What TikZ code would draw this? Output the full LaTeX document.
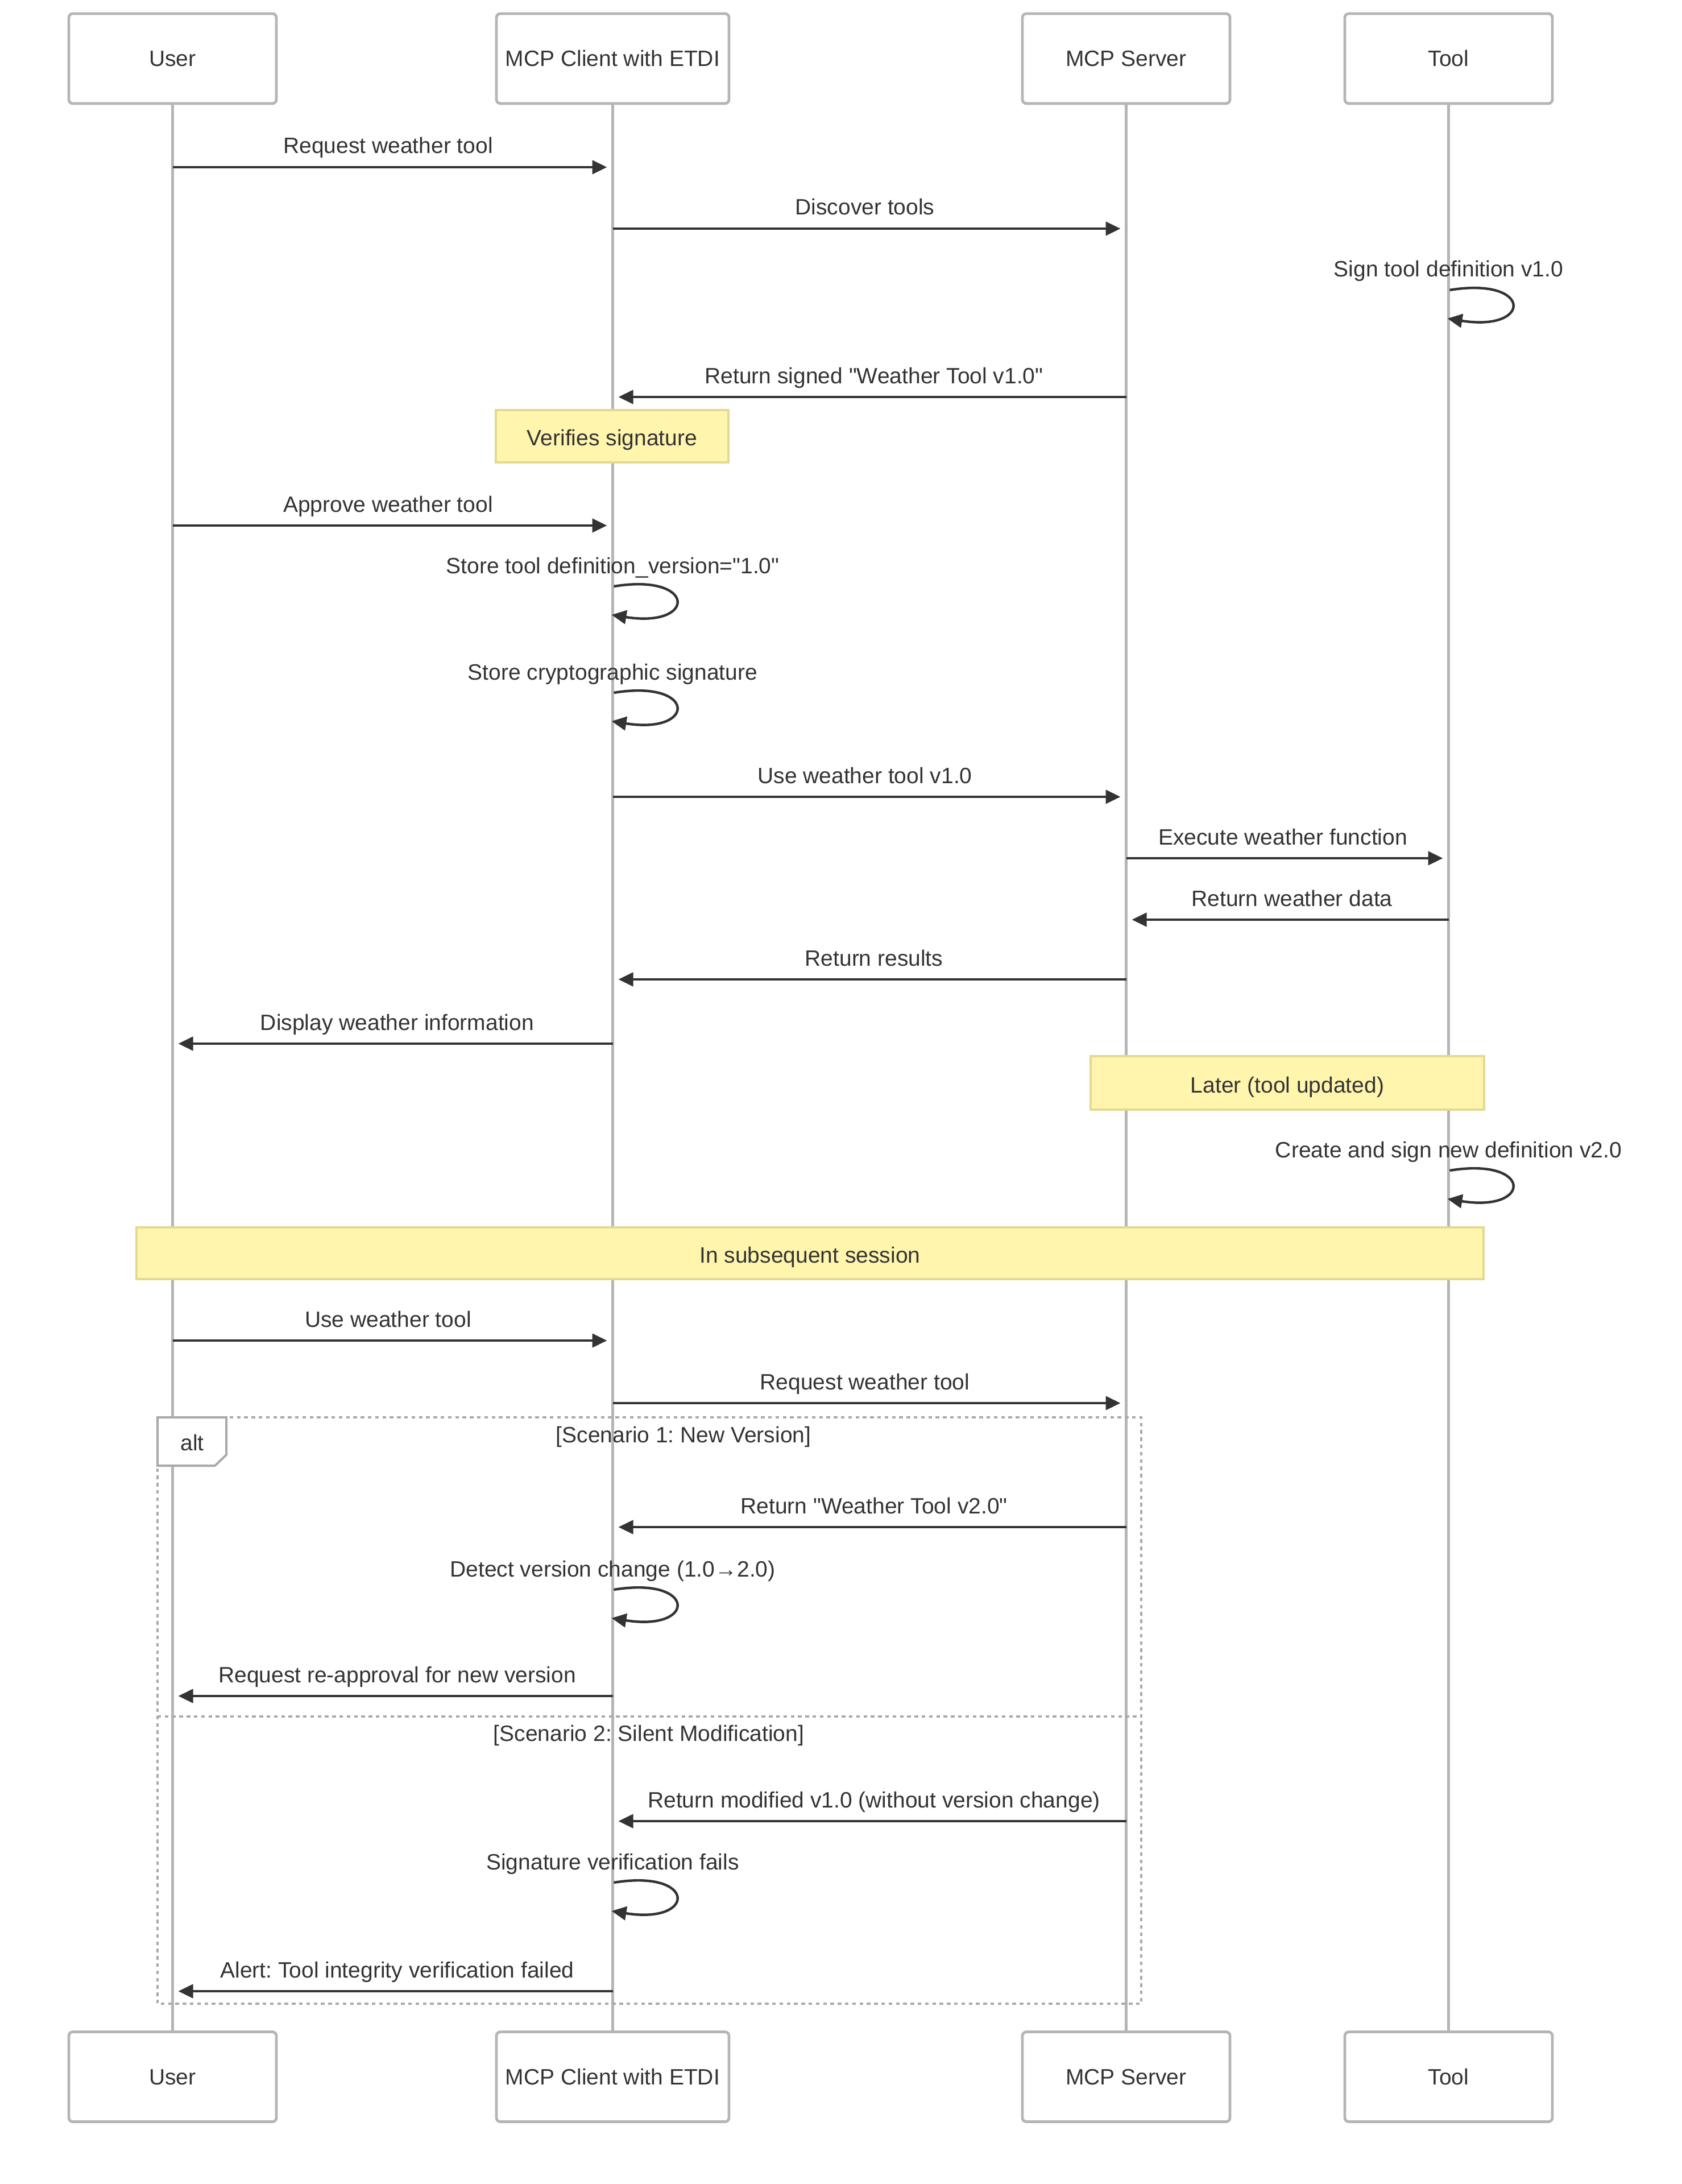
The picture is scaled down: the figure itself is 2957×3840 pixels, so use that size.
\documentclass[tikz,border=0pt]{standalone}
\usepackage{fontspec}
\setmainfont{Liberation Sans}[Ligatures=TeXOff]
\usetikzlibrary{arrows.meta,calc}
\frenchspacing
\definecolor{txt}{HTML}{333333}
\definecolor{lifeg}{HTML}{B5B5B5}
\definecolor{notefill}{HTML}{FFF5AD}
\definecolor{notedraw}{HTML}{E3D993}
\definecolor{altg}{HTML}{AAAAAA}
\newcommand\msgto[4]{%
  \draw[msg] (#1 |- 0,#3) -- (#2 |- 0,#3);
  \node[lbl] at ($($(#1 |- 0,#3)!0.5!(#2 |- 0,#3)$)!2pt!(#1 |- 0,#3)+(0,-24)$) {#4};}
\newcommand\selfmsg[3]{%
  \coordinate (tmp) at (#1 |- 0,#2);
  \draw[loopa] ($(tmp)+(2,0)$) .. controls ($(tmp)+(148,-24)$) and ($(tmp)+(148,74)$) .. ($(tmp)+(-2,50)$);
  \node[lbl] at ($(tmp)+(0,-23)$) {#3};}
\begin{document}
\begin{tikzpicture}[x=0.25pt,y=-0.25pt, font=\fontsize{9.75pt}{11pt}\selectfont, text=txt]
\tikzset{
 actor/.style={draw=lifeg, line width=1.2pt, rounded corners=1.75pt, fill=white, minimum height=39.5pt, inner sep=0pt, text height=7pt, text depth=0pt},
 life/.style={draw=lifeg, line width=1.1pt},
 msg/.style={draw=txt, line width=1.1pt, -{Triangle[length=6.5pt,width=6pt]}, shorten >=2.5pt},
 loopa/.style={draw=txt, line width=1.1pt, -{Triangle[length=6.5pt,width=6pt]}},
 lbl/.style={anchor=base, inner sep=0pt},
 note/.style={draw=notedraw, fill=notefill, line width=1.2pt, inner sep=0pt, text height=8.5pt, text depth=0pt},
 altline/.style={draw=altg, line width=1pt, dash pattern=on 1.6pt off 1.6pt},
}
\useasboundingbox[fill=white] (0,0) rectangle (2957,3840);

% actors
\node[actor, minimum width=91.25pt] (uT) at (303.5,103) {User};
\node[actor, minimum width=102.25pt] (cT) at (1077.5,103) {MCP Client with ETDI};
\node[actor, minimum width=91.25pt] (sT) at (1980.5,103) {MCP Server};
\node[actor, minimum width=91.25pt] (tT) at (2547.5,103) {Tool};
\node[actor, minimum width=91.25pt] (uB) at (303.5,3651.5) {User};
\node[actor, minimum width=102.25pt] (cB) at (1077.5,3651.5) {MCP Client with ETDI};
\node[actor, minimum width=91.25pt] (sB) at (1980.5,3651.5) {MCP Server};
\node[actor, minimum width=91.25pt] (tB) at (2547.5,3651.5) {Tool};

% lifelines
\draw[life] (uT.south) -- (uB.north);
\draw[life] (cT.south) -- (cB.north);
\draw[life] (sT.south) -- (sB.north);
\draw[life] (tT.south) -- (tB.north);

% alt frame
\draw[altline] (277,2492) rectangle (2007,3523);
\draw[altline] (277,3018) -- (2007,3018);
\node[lbl] (sc1) at (1202,2536) {[Scenario 1: New Version]};
\node[lbl] (sc2) at (1141,3061) {[Scenario 2: Silent Modification]};
\draw[draw=altg, fill=white, line width=1pt] (277,2492) -- (398,2492) -- (398,2558) -- (378,2577) -- (277,2577) -- cycle;
\node[lbl] (altl) at (338,2550) {alt};

% messages
\msgto{uT}{cT}{294}{Request weather tool}
\msgto{cT}{sT}{402}{Discover tools}
\selfmsg{tT}{510}{Sign tool definition v1.0}
\msgto{sT}{cT}{698}{Return signed "Weather Tool v1.0"}
\node[note, minimum width=102.25pt, minimum height=23pt] (n1) at (1076.5,767) {Verifies signature};
\msgto{uT}{cT}{924}{Approve weather tool}
\selfmsg{cT}{1031}{Store tool definition\_version="1.0"}
\selfmsg{cT}{1218}{Store cryptographic signature}
\msgto{cT}{sT}{1401}{Use weather tool v1.0}
\msgto{sT}{tT}{1509}{Execute weather function}
\msgto{tT}{sT}{1617}{Return weather data}
\msgto{sT}{cT}{1722}{Return results}
\msgto{cT}{uT}{1835}{Display weather information}
\node[note, minimum width=173pt, minimum height=23.5pt] (n2) at (2264,1904) {Later (tool updated)};
\selfmsg{tT}{2058}{Create and sign new definition v2.0}
\node[note, minimum width=592.25pt, minimum height=22.75pt] (n3) at (1424.5,2203.5) {In subsequent session};
\msgto{uT}{cT}{2357}{Use weather tool}
\msgto{cT}{sT}{2467}{Request weather tool}
\msgto{sT}{cT}{2685}{Return "Weather Tool v2.0"}
\selfmsg{cT}{2795}{Detect version change (1.0→2.0)}
\msgto{cT}{uT}{2982}{Request re-approval for new version}
\msgto{sT}{cT}{3202}{Return modified v1.0 (without version change)}
\selfmsg{cT}{3310}{Signature verification fails}
\msgto{cT}{uT}{3501}{Alert: Tool integrity verification failed}
\end{tikzpicture}
\end{document}
